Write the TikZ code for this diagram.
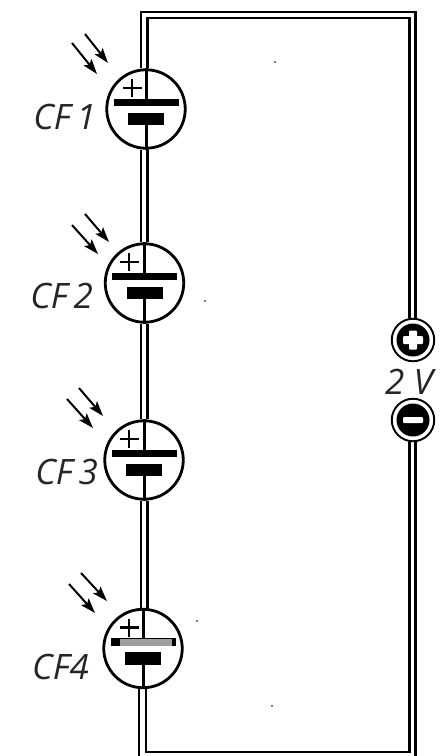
\documentclass[tikz,border=0pt]{standalone}
\usepackage{fontspec}
\setmainfont{Open Sans}
\usetikzlibrary{arrows.meta}
\tikzset{
 x=1pt,y=-1pt,
 cell/.style={circle,draw=black,line width=2.8pt,minimum size=78.5pt,inner sep=0pt,fill=white},
 wire/.style={line width=2.3pt,black},
 stem/.style={line width=3pt,black},
 plate/.style={fill=black,draw=none,inner sep=0pt},
 crossbar/.style={line width=2.6pt,black},
 ray/.style={line width=2pt,-{Stealth[length=15pt,width=10pt,inset=3pt]}},
 lab/.style={font=\itshape\fontsize{35}{35}\selectfont,inner sep=0pt,text=black!85},
 term/.style={circle,draw=black,line width=1.9pt,fill=white,minimum size=42.5pt,inner sep=0pt},
 termin/.style={circle,fill=black,minimum size=33pt,inner sep=0pt},
 termbar/.style={fill=white,rounded corners=1pt,draw=none,inner sep=0pt}
}
\newcommand{\capcell}[4]{% name, x, y, plus-x
 \node[cell] (#1) at (#2,#3) {};
 \node[plate,minimum width=65pt,minimum height=7.5pt] (#1top) at (#2,#3-6.5) {};
 \node[plate,minimum width=36pt,minimum height=12.5pt] (#1bot) at (#2,#3+10) {};
 \draw[stem] (#1.north) -- (#1top.north);
 \draw[stem] (#1bot.south) -- (#1.south);
 \draw[crossbar] (#4-9.5,#3-21) -- (#4+9.5,#3-21);
 \draw[crossbar] (#4,#3-30) -- (#4,#3-12);
}
\begin{document}
\begin{tikzpicture}
\useasboundingbox (0,0) rectangle (446,756);
\coordinate (tl) at (141,12);
\coordinate (tli) at (147.5,18);
\coordinate (tr) at (415.5,12);
\coordinate (tri) at (409.5,18);
\coordinate (bl) at (139,756);
\coordinate (bli) at (146,752);
\coordinate (br) at (415.5,756);
\coordinate (bri) at (409.5,752);
\capcell{c1}{146}{109}{132}
\capcell{c2}{144.5}{283}{129}
\capcell{c3}{144}{460}{129}
\capcell{c4}{143}{648.5}{129}
% worn patch on the CF4 plate
\fill[gray!75] (120,639) rectangle (172,646);
\node[term] (p) at (413,340) {};
\node[termin] (pi) at (413,340) {};
\node[termbar,minimum width=20pt,minimum height=8pt] at (413,340) {};
\node[termbar,minimum width=8pt,minimum height=19pt] at (413,340) {};
\node[term] (m) at (413,420) {};
\node[termin] (mi) at (413,420) {};
\node[termbar,minimum width=20pt,minimum height=6pt] at (413,420) {};
% outer wires
\draw[wire] (tl |- c1.north) -- (tl) -- (tr) -- (tr |- p.north);
\draw[wire] (tli |- c1.north) -- (tli) -- (tri) -- (tri |- p.north);
\draw[wire] (br |- m.south) -- (br);
\draw[wire] (bri |- m.south) -- (bri) -- (bli) -- (bli |- c4.south);
\draw[wire] (bl |- c4.south) -- (bl);
% links between cells
\foreach \u/\v in {c1/c2,c2/c3,c3/c4}{
 \draw[wire] (141,0 |- \u.south) -- (141,0 |- \v.north);
 \draw[wire] (147.5,0 |- \u.south) -- (147.5,0 |- \v.north);
}
% labels
\node[lab,anchor=east] (l1) at (96,116.5) {CF\,1};
\node[lab,anchor=east] (l2) at (93,296) {CF\,2};
\node[lab,anchor=east] (l3) at (98,472) {CF\,3};
\node[lab,anchor=east] (l4) at (89,667) {CF4};
\node[lab,anchor=east] (lv) at (433,381.5) {2 V};
% rays
\coordinate (a1) at (72,43); \coordinate (a1e) at (97,74);
\coordinate (b1) at (85,34); \coordinate (b1e) at (108,63);
\coordinate (a2) at (72,225); \coordinate (a2e) at (98,254);
\coordinate (b2) at (85,214); \coordinate (b2e) at (109,242);
\coordinate (a3) at (67,399); \coordinate (a3e) at (93,428);
\coordinate (b3) at (79,388); \coordinate (b3e) at (103,416);
\coordinate (a4) at (69,584); \coordinate (a4e) at (95,613);
\coordinate (b4) at (81,573); \coordinate (b4e) at (107,601);
\foreach \n in {1,2,3,4}{
 \draw[ray] (a\n) -- (a\n e);
 \draw[ray] (b\n) -- (b\n e);
}
% specks
\fill (275,62) circle (.9);
\fill (205,301) circle (.9);
\fill (197,621) circle (.9);
\fill (272,706) circle (.9);
\end{tikzpicture}
\end{document}
